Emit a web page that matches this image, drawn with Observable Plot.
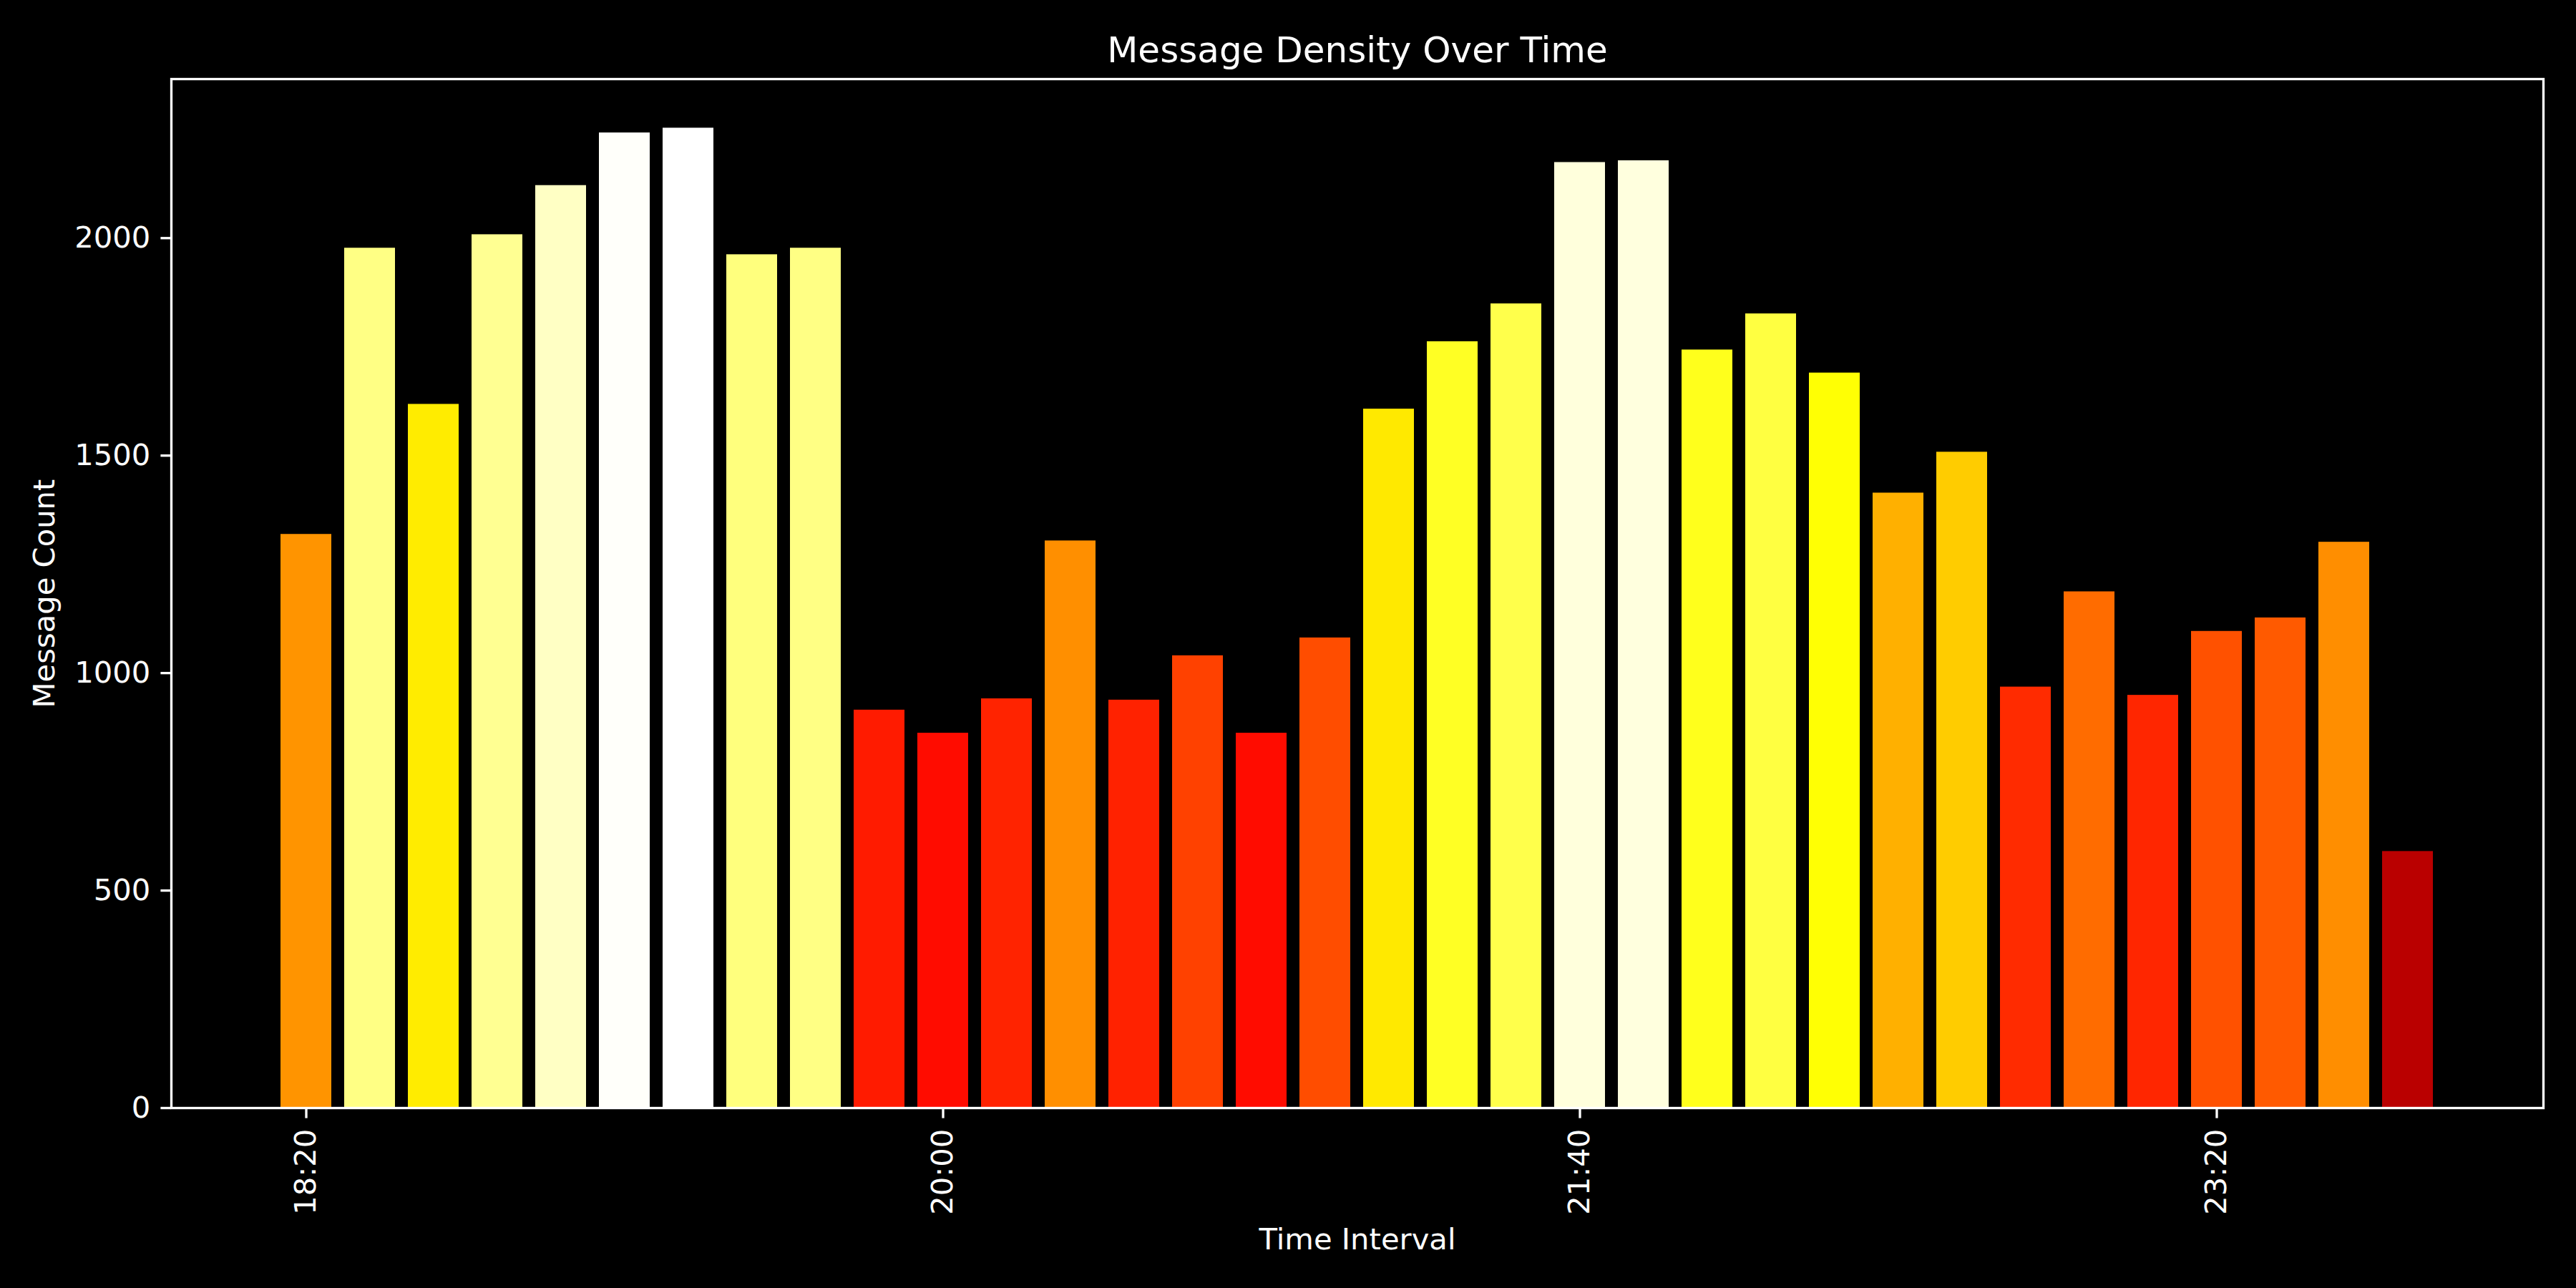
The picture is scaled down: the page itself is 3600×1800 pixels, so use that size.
<!DOCTYPE html>
<html>
<head>
<meta charset="utf-8">
<script src="https://cdn.jsdelivr.net/npm/d3@7"></script>
<script src="https://cdn.jsdelivr.net/npm/@observablehq/plot@0.6"></script>
<style>
  html, body { margin: 0; padding: 0; background: #000; }
  #chart svg { display: block; }
</style>
</head>
<body>
<div id="chart"></div>
<script>
const intervals = ["18:20","18:30","18:40","18:50","19:00","19:10","19:20","19:30","19:40","19:50",
  "20:00","20:10","20:20","20:30","20:40","20:50","21:00","21:10","21:20","21:30",
  "21:40","21:50","22:00","22:10","22:20","22:30","22:40","22:50","23:00","23:10",
  "23:20","23:30","23:40","23:50"];
const counts = [1319, 1977, 1618, 2008, 2121, 2242, 2253, 1962, 1977, 915,
  862, 941, 1304, 938, 1040, 862, 1081, 1607, 1762, 1849,
  2174, 2178, 1743, 1826, 1690, 1414, 1508, 968, 1187, 949,
  1096, 1127, 1301, 590];
const xTicks = ["18:20", "20:00", "21:40", "23:20"];
const yTicks = [0, 500, 1000, 1500, 2000];

const data = intervals.map((t, i) => ({t, v: counts[i]}));
const vmax = d3.max(counts);
// matplotlib "hot" colormap anchor points
const hotStops = [0, 0.365079, 0.746032, 1];
const hotColors = ["#0b0000", "#ff0000", "#ffff00", "#ffffff"];

const font = "DejaVu Sans, sans-serif";
const fs = 41.7;
const lw = 3.33;

const chart = Plot.plot({
  width: 3600,
  height: 1800,
  marginLeft: 239,
  marginRight: 46,
  marginTop: 110,
  marginBottom: 252,
  style: {background: "#000", color: "#fff", fontFamily: font, fontSize: fs + "px"},
  x: {type: "band", domain: intervals, paddingInner: 0.2, paddingOuter: 1.69, align: 0.5},
  y: {domain: [0, vmax * 1.05]},
  color: {type: "linear", domain: hotStops.map(s => s * vmax), range: hotColors, interpolate: "rgb"},
  marks: [
    Plot.barY(data, {x: "t", y: "v", fill: "v"}),
    Plot.frame({stroke: "#fff", strokeWidth: lw}),
    Plot.axisY({ticks: yTicks, tickFormat: d => String(d), tickSize: 14.6, tickPadding: 14.6, strokeWidth: lw, fontSize: fs,
      label: "Message Count", labelAnchor: "center", labelArrow: "none", labelOffset: 193}),
    Plot.axisX({ticks: xTicks, tickSize: 14.6, tickPadding: 14.6, strokeWidth: lw, fontSize: fs,
      tickRotate: -90, label: null}),
    Plot.text(["Time Interval"], {frameAnchor: "bottom", dy: 197, fontSize: fs, fill: "#fff"}),
    Plot.text(["Message Density Over Time"], {frameAnchor: "top", dy: -59, fontSize: 50, fill: "#fff"})
  ]
});
document.getElementById("chart").appendChild(chart);
</script>
</body>
</html>
